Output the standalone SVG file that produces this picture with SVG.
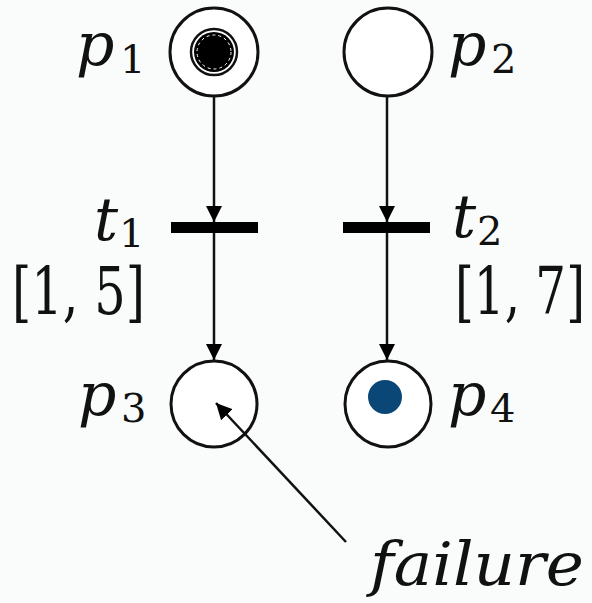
<svg xmlns="http://www.w3.org/2000/svg" width="592" height="603" viewBox="0 0 592 603">
<style>
.pl{fill:#fff;stroke:#111;stroke-width:3}
.bar{fill:#000}
.arc{stroke:#111;stroke-width:2.5;fill:none}
text{font-family:"DejaVu Serif","Liberation Serif",serif;fill:#111}
.lbl{font-style:italic;font-size:60px}
.sub{font-style:normal;font-size:40px}
.iv{font-size:66px}
.fl{font-style:italic;font-size:60px}
</style>
<defs>
<marker id="ah" markerWidth="16" markerHeight="18" refX="16" refY="8" orient="auto" markerUnits="userSpaceOnUse" viewBox="0 0 16 16">
<path d="M0,0 L16,8 L0,16 z" fill="#000"/>
</marker>
</defs>
<rect width="592" height="603" fill="#fafcfb"/>
<g id="p1">
<circle class="pl" cx="214" cy="52" r="44"/>
<circle cx="214" cy="52" r="23" fill="#fff" stroke="#111" stroke-width="2.5"/>
<circle cx="214" cy="52" r="20" fill="#000"/>
<circle cx="214" cy="52" r="17" fill="none" stroke="#fff" stroke-width="1" stroke-dasharray="3 3"/>
<text class="lbl" x="76" y="65">p</text><text class="sub" x="120" y="73">1</text>
</g>
<g id="p2">
<circle class="pl" cx="388" cy="52" r="44"/>
<text class="lbl" x="448" y="65">p</text><text class="sub" x="491" y="73">2</text>
</g>
<g id="t1">
<rect class="bar" x="171" y="222" width="87" height="11"/>
<text class="lbl" x="94" y="240">t</text><text class="sub" x="119" y="247">1</text>
<text class="iv" x="12" y="314" textLength="133" lengthAdjust="spacingAndGlyphs">[1, 5]</text>
</g>
<g id="t2">
<rect class="bar" x="343" y="222" width="87" height="11"/>
<text class="lbl" x="452" y="237">t</text><text class="sub" x="477" y="245">2</text>
<text class="iv" x="455" y="314" textLength="130" lengthAdjust="spacingAndGlyphs">[1, 7]</text>
</g>
<g id="p3">
<circle class="pl" cx="214" cy="404" r="43"/>
<text class="lbl" x="78" y="415">p</text><text class="sub" x="121" y="422">3</text>
</g>
<g id="p4">
<circle class="pl" cx="388" cy="404" r="43"/>
<circle cx="385" cy="397" r="17" fill="#0a4777"/>
<text class="lbl" x="448" y="415">p</text><text class="sub" x="490" y="422">4</text>
</g>
<g id="failure">
<text class="fl" x="370" y="585" textLength="214" lengthAdjust="spacingAndGlyphs">failure</text>
</g>
<g id="connectors">
<line class="arc" x1="214" y1="97" x2="214" y2="222" marker-end="url(#ah)"/>
<line class="arc" x1="214" y1="233" x2="214" y2="360" marker-end="url(#ah)"/>
<line class="arc" x1="387" y1="97" x2="387" y2="222" marker-end="url(#ah)"/>
<line class="arc" x1="387" y1="233" x2="387" y2="360" marker-end="url(#ah)"/>
<line class="arc" x1="346" y1="542" x2="216" y2="403" marker-end="url(#ah)"/>
</g>
</svg>
